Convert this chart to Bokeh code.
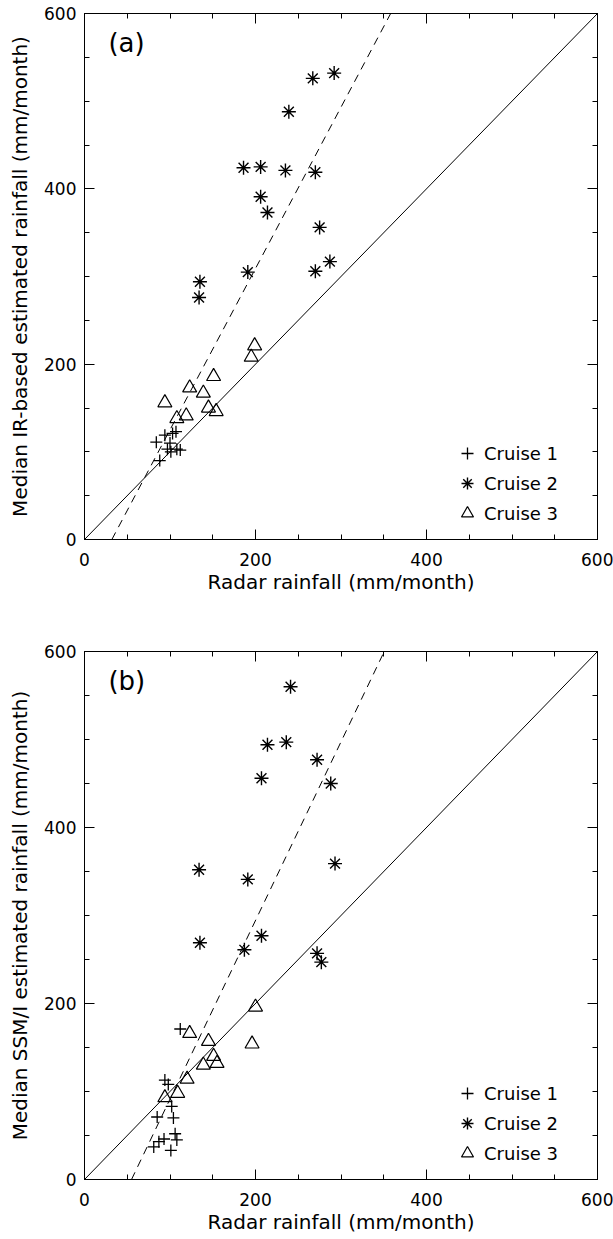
from bokeh.plotting import figure
from bokeh.models import (Range1d, SingleIntervalTicker, LinearAxis, Slope, Legend,
                          LegendItem, Label, CustomLabelingPolicy)
from bokeh.layouts import column
from bokeh.embed import file_html
from bokeh.resources import INLINE

# ---------------- data ----------------
# Panel (a): IR-based estimate vs radar
a_c1_x = [84, 94, 103, 107, 100, 97, 101, 108, 112, 88]
a_c1_y = [111, 119, 121, 123, 110, 103, 100, 103, 102, 90]
a_c2_x = [267, 292, 239, 186, 206, 235, 270, 206, 214, 275, 287, 270, 191, 135, 134]
a_c2_y = [526, 532, 488, 424, 425, 421, 419, 391, 373, 356, 317, 306, 305, 294, 276]
a_c3_x = [199, 195, 151, 123, 139, 94, 145, 154, 119, 108]
a_c3_y = [221, 208, 186, 173, 167, 156, 150, 146, 141, 138]

# Panel (b): SSM/I estimate vs radar
b_c1_x = [112, 94, 98, 102, 85, 104, 81, 87, 93, 106, 108, 101]
b_c1_y = [171, 113, 108, 83, 71, 70, 37, 43, 46, 52, 45, 33]
b_c2_x = [241, 214, 236, 272, 207, 288, 134, 191, 293, 207, 135, 187, 272, 277]
b_c2_y = [560, 494, 497, 477, 456, 450, 352, 341, 359, 277, 269, 261, 257, 247]
b_c3_x = [200, 196, 123, 145, 151, 155, 139, 120, 109, 94]
b_c3_y = [196, 154, 166, 157, 140, 132, 130, 114, 98, 93]

# dashed regression lines: slope and x-intercept
fit_slope = [1.84, 2.03]
fit_x0 = [32, 55]

panel_labels = ["(a)", "(b)"]
y_titles = ["Median IR-based estimated rainfall (mm/month)",
            "Median SSM/I estimated rainfall (mm/month)"]
x_title = "Radar rainfall (mm/month)"
series_names = ["Cruise 1", "Cruise 2", "Cruise 3"]

FONT = "DejaVu Sans"


def style_axis(ax, show_labels=True):
    ax.ticker = SingleIntervalTicker(interval=200, num_minor_ticks=4)
    ax.axis_line_color = "black"
    ax.axis_line_width = 1
    ax.major_tick_in = 10
    ax.major_tick_out = 0
    ax.minor_tick_in = 5
    ax.minor_tick_out = 0
    ax.major_tick_line_color = "black"
    ax.minor_tick_line_color = "black"
    ax.major_label_text_font = FONT
    ax.major_label_text_font_size = "17px"
    ax.major_label_text_color = "black"
    ax.axis_label_text_font = FONT
    ax.axis_label_text_font_size = "20px"
    ax.axis_label_text_font_style = "normal"
    ax.axis_label_text_color = "black"
    if not show_labels:
        ax.major_label_text_font_size = "0px"
        ax.major_label_policy = CustomLabelingPolicy(code="return false")
        ax.major_label_standoff = 0


def make_panel(idx, c1x, c1y, c2x, c2y, c3x, c3y, height, top, bottom):
    p = figure(width=613, height=height, output_backend="svg", toolbar_location=None,
               x_range=Range1d(0, 600), y_range=Range1d(0, 600),
               min_border_left=84, min_border_right=16,
               min_border_top=top, min_border_bottom=bottom,
               x_axis_label=x_title, y_axis_label=y_titles[idx])
    p.grid.visible = False
    p.outline_line_color = "black"
    p.background_fill_color = "white"
    p.border_fill_color = "white"
    style_axis(p.xaxis[0])
    style_axis(p.yaxis[0])
    p.xaxis[0].major_label_standoff = 13
    p.xaxis[0].axis_label_standoff = 1
    p.yaxis[0].major_label_standoff = 8
    p.yaxis[0].axis_label_standoff = 9
    ra = LinearAxis()
    style_axis(ra, show_labels=False)
    p.add_layout(ra, "right")
    ta = LinearAxis()
    style_axis(ta, show_labels=False)
    p.add_layout(ta, "above")

    # 1:1 line and regression line
    p.add_layout(Slope(gradient=1, y_intercept=0, line_color="black", line_width=1))
    p.add_layout(Slope(gradient=fit_slope[idx], y_intercept=-fit_slope[idx] * fit_x0[idx],
                       line_color="black", line_width=1, line_dash="8 6"))

    r1 = p.scatter(c1x, c1y, marker="cross", size=12, line_color="black", line_width=1.3)
    r2 = p.scatter(c2x, c2y, marker="asterisk", size=14, line_color="black", line_width=1.4)
    r3 = p.scatter(c3x, c3y, marker="triangle", size=14, line_color="black",
                   fill_alpha=0, line_width=1.2)

    legend = Legend(items=[LegendItem(label=series_names[0], renderers=[r1]),
                           LegendItem(label=series_names[1], renderers=[r2]),
                           LegendItem(label=series_names[2], renderers=[r3])],
                    location=(368, 11), glyph_width=30, glyph_height=30,
                    label_height=30, spacing=0, padding=0, margin=0,
                    label_standoff=2, border_line_alpha=0, background_fill_alpha=0,
                    label_text_font=FONT, label_text_font_size="18px",
                    label_text_color="black")
    p.add_layout(legend, "center")

    p.add_layout(Label(x=28, y=583, text=panel_labels[idx], text_font=FONT,
                       text_font_size="26px", text_baseline="top", text_color="black"))
    return p


p1 = make_panel(0, a_c1_x, a_c1_y, a_c2_x, a_c2_y, a_c3_x, a_c3_y, 600, 13, 61)
p2 = make_panel(1, b_c1_x, b_c1_y, b_c2_x, b_c2_y, b_c3_x, b_c3_y, 639, 51, 60)

layout = column(p1, p2, spacing=0)
open("out.html", "w").write(file_html(layout, INLINE))
